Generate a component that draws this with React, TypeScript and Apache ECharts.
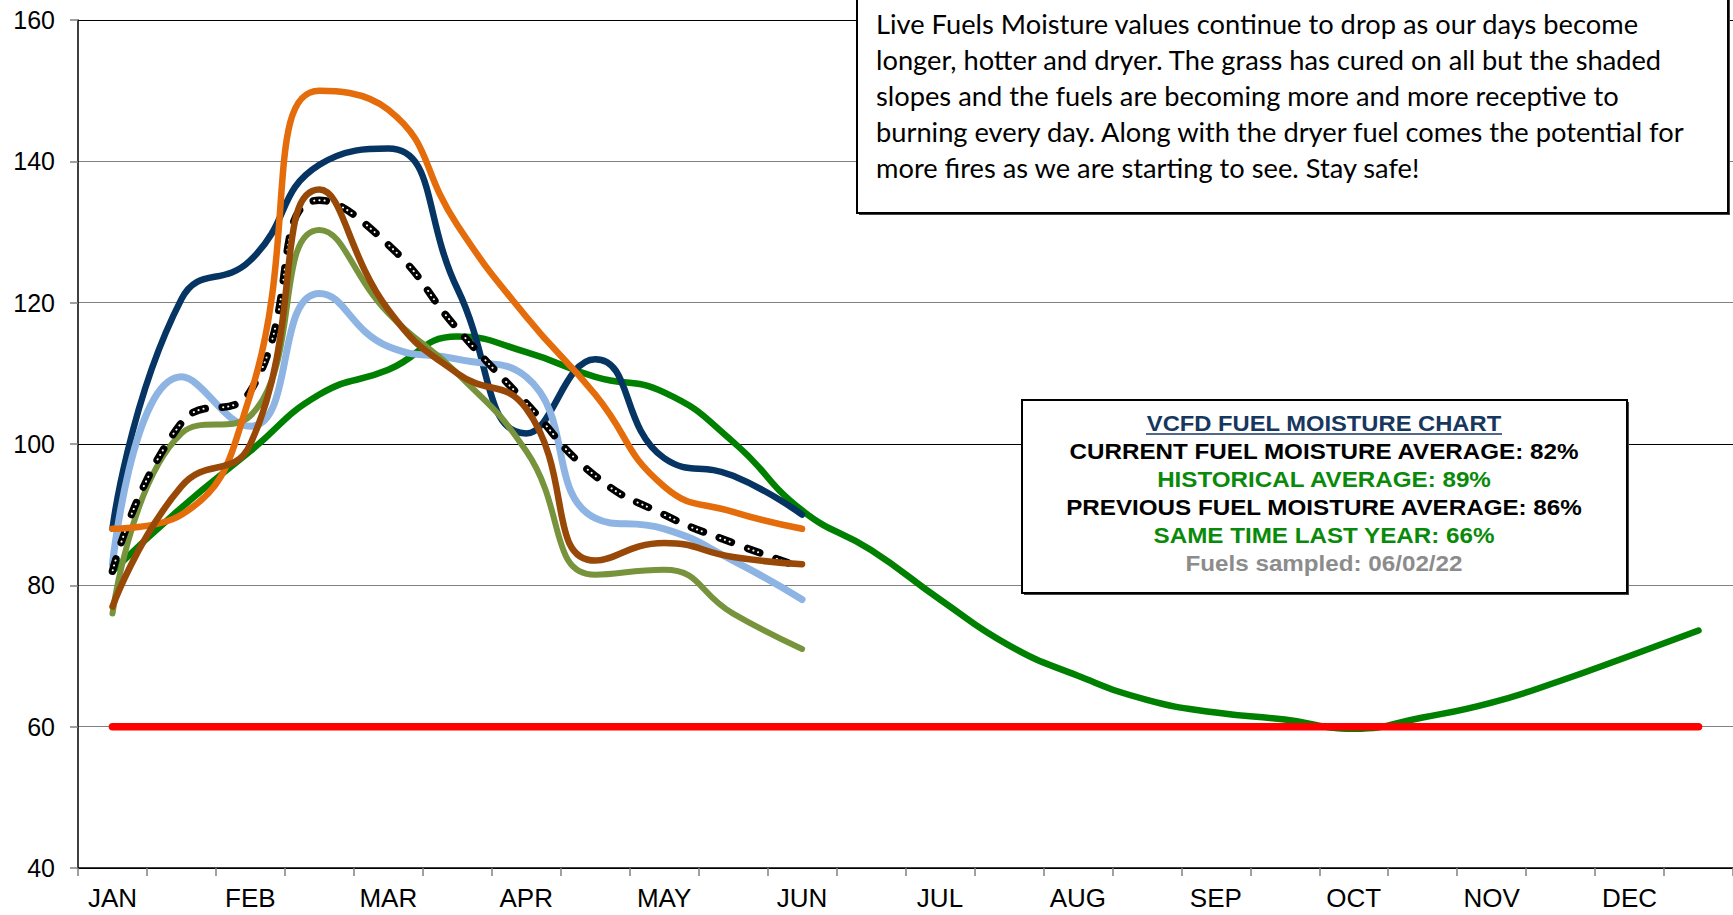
import React, { useEffect, useRef } from 'react';
import * as echarts from 'echarts';

const months = ['JAN', 'FEB', 'MAR', 'APR', 'MAY', 'JUN', 'JUL', 'AUG', 'SEP', 'OCT', 'NOV', 'DEC'];
// two samples per month (1st half / 2nd half)
const categories = months.flatMap((m) => [m, m + ' (2)']);

const yTicks = { min: 40, max: 160, step: 20 };

const historicalAvg = [82, 91, 99, 107, 110.5, 115.2, 113, 109.5, 107.3, 100.3, 90.6, 85, 78, 71.5, 67.2, 63.8, 62, 61, 59.7, 61.3, 63.4, 66.5, 70, 73.6];
const criticalLevel = [60, 60, 60, 60, 60, 60, 60, 60, 60, 60, 60, 60, 60, 60, 60, 60, 60, 60, 60, 60, 60, 60, 60, 60];
const navySeries = [88, 120.5, 126, 139.5, 141.8, 122, 101.5, 112, 98, 95.5, 90];
const lightBlueSeries = [83, 109.5, 102.5, 121.3, 113.8, 112, 109.5, 89.5, 88, 83.5, 78];
const oliveSeries = [76, 101.5, 104, 130.3, 118.5, 110, 99, 81.5, 82.2, 76, 71];
const dashedSeries = [82, 103, 107.5, 134.5, 128.2, 116.3, 105.8, 95.5, 90, 86, 82.5];
const orangeSeries = [88, 90, 107, 150, 147.3, 131, 118, 107, 94, 90.4, 88];
const brownSeries = [77, 94, 100, 136, 119, 110, 105, 83.5, 86, 84, 83];

const noteLines = [
  'Live Fuels Moisture values continue to drop as our days become',
  'longer, hotter and dryer. The grass has cured on all but the shaded',
  'slopes and the fuels are becoming more and more receptive to',
  'burning every day. Along with the dryer fuel comes the potential for',
  'more fires as we are starting to see. Stay safe!',
];

const summaryTitle = 'VCFD FUEL MOISTURE CHART';
const summaryLines = [
  { text: 'CURRENT FUEL MOISTURE AVERAGE: 82%', color: '#000000' },
  { text: 'HISTORICAL AVERAGE: 89%', color: '#0A8A0A' },
  { text: 'PREVIOUS FUEL MOISTURE AVERAGE: 86%', color: '#000000' },
  { text: 'SAME TIME LAST YEAR: 66%', color: '#0A8A0A' },
  { text: 'Fuels sampled: 06/02/22', color: '#8C8C8C' },
];

const lineSeries = (name: string, data: number[], color: string, width: number, z: number, extra: any = {}) => ({
  name,
  type: 'line',
  data,
  smooth: 0.5,
  showSymbol: false,
  symbol: 'none',
  z,
  lineStyle: { color, width, cap: 'round', join: 'round', ...extra },
});

export default function App() {
  const ref = useRef<HTMLDivElement>(null);
  useEffect(() => {
    if (!ref.current) return;
    const chart = echarts.init(ref.current, undefined, { renderer: 'svg' });
    const font = '"Liberation Sans", Arial, sans-serif';
    const noteFont = 'Lato, "Noto Sans", sans-serif';

    const graphics: any[] = [
      { type: 'rect', z: 100, shape: { x: 859, y: -10, width: 871, height: 225 }, style: { fill: '#444' } },
      { type: 'rect', z: 101, shape: { x: 857, y: -10, width: 871, height: 223 }, style: { fill: '#fff', stroke: '#000', lineWidth: 2 } },
      ...noteLines.map((t, i) => ({
        type: 'text',
        z: 102,
        x: 876,
        y: 24 + i * 36,
        scaleX: 1.01,
        style: { text: t, x: 0, y: 0, fill: '#000', font: `27px ${noteFont}`, align: 'left', verticalAlign: 'middle', textAlign: 'left', textVerticalAlign: 'middle' },
      })),
      { type: 'rect', z: 100, shape: { x: 1024, y: 402, width: 605, height: 193 }, style: { fill: '#444' } },
      { type: 'rect', z: 101, shape: { x: 1022, y: 400, width: 605, height: 193 }, style: { fill: '#fff', stroke: '#000', lineWidth: 2 } },
      {
        type: 'text',
        z: 102,
        x: 1324,
        y: 423,
        scaleX: 1.08,
        style: { text: summaryTitle, x: 0, y: 0, fill: '#17375E', font: `bold 22px ${font}`, align: 'center', verticalAlign: 'middle', textAlign: 'center', textVerticalAlign: 'middle' },
      },
      { type: 'line', z: 102, shape: { x1: 1146, y1: 434, x2: 1502, y2: 434 }, style: { stroke: '#17375E', lineWidth: 1.5 } },
      ...summaryLines.map((l, i) => ({
        type: 'text',
        z: 102,
        x: 1324,
        y: 451 + i * 28.2,
        scaleX: 1.1,
        style: { text: l.text, x: 0, y: 0, fill: l.color, font: `bold 22px ${font}`, align: 'center', verticalAlign: 'middle', textAlign: 'center', textVerticalAlign: 'middle' },
      })),
    ];

    chart.setOption({
      animation: false,
      backgroundColor: '#ffffff',
      grid: { left: 78, right: -5, top: 20, bottom: 47, containLabel: false },
      xAxis: {
        type: 'category',
        data: categories,
        boundaryGap: true,
        axisLine: { lineStyle: { color: '#000', width: 1.5 } },
        axisTick: { show: true, interval: 0, length: 8, lineStyle: { color: '#808080', width: 1.5 } },
        axisLabel: { interval: 1, color: '#000', fontSize: 26, fontFamily: font, margin: 17 },
        splitLine: { show: false },
      },
      yAxis: {
        type: 'value',
        min: yTicks.min,
        max: yTicks.max,
        interval: yTicks.step,
        axisLine: { show: true, lineStyle: { color: '#000', width: 1.5 } },
        axisTick: { show: true, length: 8, lineStyle: { color: '#808080', width: 1.5 } },
        axisLabel: { color: '#000', fontSize: 25, fontFamily: font, margin: 23 },
        splitLine: { show: true, lineStyle: { color: ['#000', '#808080', '#808080'], width: 1.2 } },
      },
      series: [
        lineSeries('Historical Average', historicalAvg, '#008000', 6.5, 2),
        lineSeries('Navy', navySeries, '#063463', 6.5, 3),
        lineSeries('Light Blue', lightBlueSeries, '#8DB4E2', 7, 4),
        lineSeries('Olive', oliveSeries, '#77933C', 6, 5),
        lineSeries('Average', dashedSeries, '#000000', 7.5, 6, { type: [13, 17] }),
        lineSeries('Average dots', dashedSeries, '#ffffff', 2, 7, { type: [0.1, 5, 0.1, 5, 0.1, 19.7], dashOffset: -1.5 }),
        lineSeries('Orange', orangeSeries, '#E46C0A', 6.5, 8),
        lineSeries('Brown', brownSeries, '#984807', 6.5, 9),
        lineSeries('Critical', criticalLevel, '#FF0000', 7.5, 10),
      ],
      graphic: { elements: graphics },
    });
    return () => chart.dispose();
  }, []);
  return <div ref={ref} style={{ position: 'fixed', left: 0, top: 0, width: 1733, height: 915 }} />;
}
